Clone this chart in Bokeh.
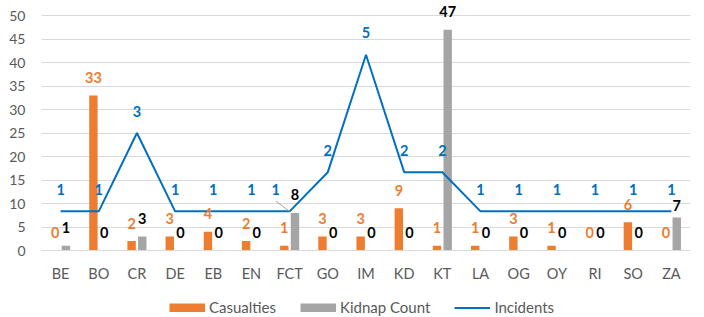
from bokeh.plotting import figure
from bokeh.layouts import column
from bokeh.models import (ColumnDataSource, FactorRange, Range1d, LabelSet, Legend,
                          LegendItem, FixedTicker)
from bokeh.transform import dodge
from bokeh.core.properties import value
from bokeh.embed import file_html
from bokeh.resources import INLINE

# ---- data ----
states = ["BE", "BO", "CR", "DE", "EB", "EN", "FCT", "GO", "IM", "KD", "KT",
          "LA", "OG", "OY", "RI", "SO", "ZA"]
casualties = [0, 33, 2, 3, 4, 2, 1, 3, 3, 9, 1, 1, 3, 1, 0, 6, 0]
kidnaps = [1, 0, 3, 0, 0, 0, 8, 0, 0, 0, 47, 0, 0, 0, 0, 0, 7]
incidents = [1, 1, 3, 1, 1, 1, 1, 2, 5, 2, 2, 1, 1, 1, 1, 1, 1]
y_ticks = [0, 5, 10, 15, 20, 25, 30, 35, 40, 45, 50]
series_names = ["Casualties", "Kidnap Count", "Incidents"]

ORANGE = "#ED7D31"
GRAY = "#A5A5A5"
BLUE = "#0070C0"
TXT = "#595959"
FONT = "Lato"
NAN = float("nan")

Y_MAX = 50          # primary axis max (top gridline)
INC_MAX = 6         # hidden secondary axis max for incidents
Y_END = 53.2        # a little headroom so the top data label is not clipped

# label placement tweaks (screen px)
inc_dx = [-14 if s == "FCT" else 0 for s in states]
kid_dy = [12 if s == "ZA" else 18 for s in states]

src = ColumnDataSource(dict(
    cat=states, cas=casualties, kid=kidnaps, inc=incidents,
    cas_t=[str(v) for v in casualties], kid_t=[str(v) for v in kidnaps],
    inc_t=[str(v) for v in incidents], inc_dx=inc_dx, kid_dy=kid_dy,
))

W = 700
p = figure(x_range=FactorRange(*states), y_range=Range1d(0, Y_END),
           width=W, height=297, output_backend="svg", toolbar_location=None,
           min_border_left=41, min_border_right=10, min_border_top=0,
           min_border_bottom=47)
p.extra_y_ranges = {"inc": Range1d(0, INC_MAX * Y_END / Y_MAX)}
p.outline_line_color = None
p.background_fill_color = "white"
p.border_fill_color = "white"

p.xgrid.grid_line_color = None
p.ygrid.grid_line_color = "#D9D9D9"
p.ygrid.grid_line_width = 1
p.yaxis.ticker = FixedTicker(ticks=y_ticks)

p.yaxis.axis_line_color = None
p.yaxis.major_tick_line_color = None
p.yaxis.minor_tick_line_color = None
p.yaxis.major_tick_out = 0
p.yaxis.major_tick_in = 0
p.yaxis.major_label_standoff = 16
p.yaxis.major_label_text_font = FONT
p.yaxis.major_label_text_font_size = "14px"
p.yaxis.major_label_text_color = TXT

p.xaxis.axis_line_color = "#D9D9D9"
p.xaxis.major_tick_line_color = None
p.xaxis.minor_tick_line_color = None
p.xaxis.major_tick_out = 0
p.xaxis.major_tick_in = 0
p.xaxis.major_label_standoff = 14
p.xaxis.major_label_text_font = FONT
p.xaxis.major_label_text_font_size = "14.5px"
p.xaxis.major_label_text_color = TXT

p.vbar(x=dodge("cat", -0.14, range=p.x_range), top="cas", width=0.22,
       fill_color=ORANGE, line_color=None, source=src)
p.vbar(x=dodge("cat", 0.14, range=p.x_range), top="kid", width=0.22,
       fill_color=GRAY, line_color=None, source=src)
p.line(x="cat", y="inc", y_range_name="inc", line_color=BLUE,
       line_width=2, source=src)

# leader line for the moved FCT label
i_fct = states.index("FCT")
lead = ColumnDataSource(dict(cat=["FCT"], y1=[incidents[i_fct]],
                             y0=[incidents[i_fct] + 0.26]))
p.segment(x0=dodge("cat", -0.36, range=p.x_range), y0="y0", x1="cat", y1="y1",
          y_range_name="inc", line_color="#A6A6A6", line_width=1, source=lead)

common = dict(source=src, text_align="center", text_baseline="middle",
              text_font=value(FONT), text_font_size="14.5px",
              text_font_style="bold")
p.add_layout(LabelSet(x=dodge("cat", -0.14, range=p.x_range), y="cas",
                      text="cas_t", y_offset=18, text_color=ORANGE, **common))
p.add_layout(LabelSet(x=dodge("cat", 0.14, range=p.x_range), y="kid",
                      text="kid_t", y_offset="kid_dy", text_color="black", **common))
p.add_layout(LabelSet(x="cat", y="inc", y_range_name="inc", text="inc_t",
                      x_offset="inc_dx", y_offset=22, text_color=BLUE, **common))

# ---- legend strip below the chart ----
lg = figure(width=W, height=20, x_range=Range1d(0, 1), y_range=Range1d(0, 1),
            x_axis_type=None, y_axis_type=None, output_backend="svg",
            toolbar_location=None, min_border=0, min_border_left=0,
            min_border_right=0, min_border_top=0, min_border_bottom=0)
lg.outline_line_color = None
lg.grid.visible = False
k_cas = lg.line(x=[NAN], y=[NAN], line_color=ORANGE, line_width=9)
k_kid = lg.line(x=[NAN], y=[NAN], line_color=GRAY, line_width=9)
k_inc = lg.line(x=[NAN], y=[NAN], line_color=BLUE, line_width=2)
legend = Legend(items=[LegendItem(label=n, renderers=[r])
                       for n, r in zip(series_names, [k_cas, k_kid, k_inc])],
                orientation="horizontal", location=(128, 1),
                glyph_width=36, glyph_height=9, label_standoff=4, spacing=24,
                padding=0, margin=0, border_line_color=None,
                background_fill_alpha=0, label_text_font=FONT,
                label_text_font_size="15px", label_text_color=TXT,
                label_height=9)
lg.add_layout(legend)

open("out.html", "w").write(file_html(column(p, lg), INLINE))
